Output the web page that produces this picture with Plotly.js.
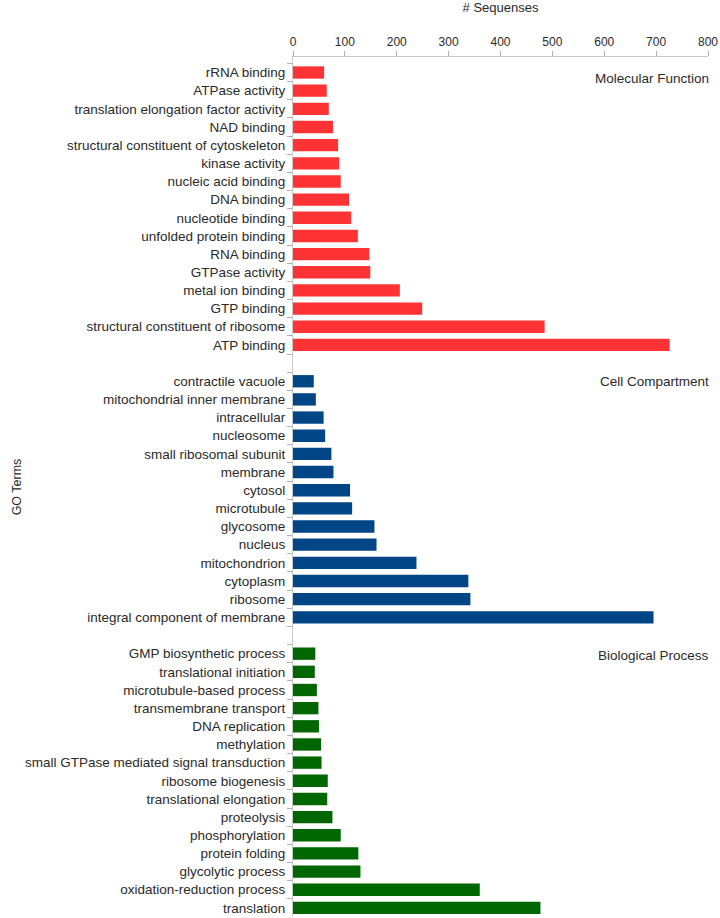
<!DOCTYPE html>
<html>
<head>
<meta charset="utf-8">
<script src="https://cdn.plot.ly/plotly-3.0.1.min.js"></script>
<style>html,body{margin:0;padding:0;background:#fff;}#chart{width:720px;height:918px;}</style>
</head>
<body>
<div id="chart"></div>
<script>
const mfTerms = ["rRNA binding","ATPase activity","translation elongation factor activity","NAD binding","structural constituent of cytoskeleton","kinase activity","nucleic acid binding","DNA binding","nucleotide binding","unfolded protein binding","RNA binding","GTPase activity","metal ion binding","GTP binding","structural constituent of ribosome","ATP binding"];
const mfValues = [60,65,69,77,87,89,92,108,112,125,147,149,206,249,485,726];

const ccTerms = ["contractile vacuole","mitochondrial inner membrane","intracellular","nucleosome","small ribosomal subunit","membrane","cytosol","microtubule","glycosome","nucleus","mitochondrion","cytoplasm","ribosome","integral component of membrane"];
const ccValues = [40,44,59,62,74,78,110,114,157,161,238,338,342,695];

const bpTerms = ["GMP biosynthetic process","translational initiation","microtubule-based process","transmembrane transport","DNA replication","methylation","small GTPase mediated signal transduction","ribosome biogenesis","translational elongation","proteolysis","phosphorylation","protein folding","glycolytic process","oxidation-reduction process","translation"];
const bpValues = [43,42,46,49,50,54,55,67,66,76,92,126,130,360,477];

const groupNames = ["Molecular Function","Cell Compartment","Biological Process"];
const xTicks = [0,100,200,300,400,500,600,700,800];

const spacerA = " ";
const spacerB = "  ";
const categoryOrder = [].concat(mfTerms, [spacerA], ccTerms, [spacerB], bpTerms);

const font = "Liberation Sans, Arial, sans-serif";
const barWidth = 0.68;

const traces = [
  {type:"bar", orientation:"h", y:mfTerms, x:mfValues, name:groupNames[0], marker:{color:"#ff3333"}, width:barWidth},
  {type:"bar", orientation:"h", y:ccTerms, x:ccValues, name:groupNames[1], marker:{color:"#004586"}, width:barWidth},
  {type:"bar", orientation:"h", y:bpTerms, x:bpValues, name:groupNames[2], marker:{color:"#006600"}, width:barWidth}
];

const layout = {
  width:720, height:918,
  margin:{l:293, r:12, t:57, b:1},
  paper_bgcolor:"#fff", plot_bgcolor:"#fff",
  showlegend:false,
  font:{family:font, color:"#2a2a2a", size:12},
  xaxis:{
    side:"top", range:[0,800], tickvals:xTicks, ticktext:xTicks.map(String),
    showgrid:false, zeroline:false, showline:true, linecolor:"#c8c8c8", linewidth:1,
    ticks:"outside", ticklen:5, tickcolor:"#b0b0b0",
    tickfont:{size:12, color:"#2a2a2a"},
    title:{text:"# Sequenses", font:{size:13, color:"#2a2a2a"}, standoff:20}
  },
  yaxis:{
    type:"category", categoryorder:"array", categoryarray:categoryOrder, autorange:"reversed",
    showgrid:false, zeroline:false, showline:true, linecolor:"#c8c8c8", linewidth:1,
    ticks:"outside", ticklen:5, tickcolor:"#b0b0b0", tickson:"boundaries",
    ticklabelstandoff:4,
    tickfont:{size:13.5, color:"#2a2a2a"},
    title:{text:"GO Terms", font:{size:12.5, color:"#2a2a2a"}, standoff:0}
  },
  annotations:[
    {xref:"paper", x:1, xanchor:"right", xshift:3, yref:"y", y:mfTerms[0], yshift:-6, text:groupNames[0], showarrow:false, font:{size:13.5, color:"#2a2a2a"}},
    {xref:"paper", x:1, xanchor:"right", xshift:3, yref:"y", y:ccTerms[0], text:groupNames[1], showarrow:false, font:{size:13.5, color:"#2a2a2a"}},
    {xref:"paper", x:1, xanchor:"right", xshift:3, yref:"y", y:bpTerms[0], yshift:-2, text:groupNames[2], showarrow:false, font:{size:13.5, color:"#2a2a2a"}}
  ]
};

Plotly.newPlot("chart", traces, layout, {displayModeBar:false, staticPlot:true});
</script>
</body>
</html>
